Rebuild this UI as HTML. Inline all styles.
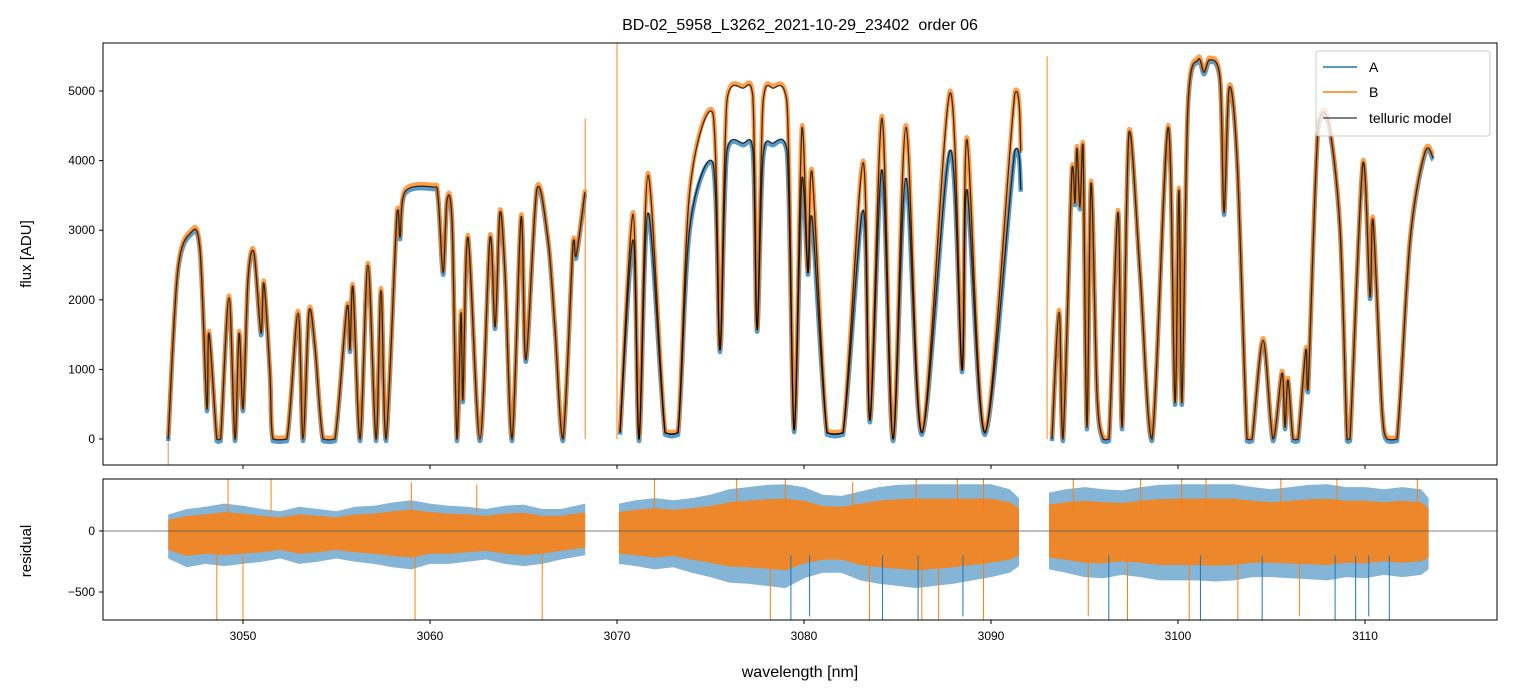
<!DOCTYPE html>
<html><head><meta charset="utf-8">
<style>
body{margin:0;background:#fff;}
svg{display:block;font-family:"Liberation Sans","DejaVu Sans",sans-serif;}
</style></head>
<body>
<svg id="chart" width="1513" height="696" viewBox="0 0 1513 696">
  <rect width="1513" height="696" fill="#fff"/>
  <text x="800" y="30" text-anchor="middle" font-size="16" fill="#000" style="white-space:pre">BD-02_5958_L3262_2021-10-29_23402  order 06</text>
  <g id="top-panel"></g>
  <g id="res-panel"></g>
  <text x="0" y="0" transform="translate(31,254) rotate(-90)" text-anchor="middle" font-size="15">flux [ADU]</text>
  <text x="0" y="0" transform="translate(31,551) rotate(-90)" text-anchor="middle" font-size="15">residual</text>
  <text x="800" y="677" text-anchor="middle" font-size="16">wavelength [nm]</text>
  <g id="legend">
    <rect x="1316" y="51" width="174" height="85" rx="3" fill="#fff" fill-opacity="0.8" stroke="#ccc"/>
    <line x1="1323" y1="67" x2="1357" y2="67" stroke="#1f77b4" stroke-width="1.5"/>
    <text x="1369" y="72" font-size="14">A</text>
    <line x1="1323" y1="92" x2="1357" y2="92" stroke="#ff7f0e" stroke-width="1.5"/>
    <text x="1369" y="97" font-size="14">B</text>
    <line x1="1323" y1="118" x2="1357" y2="118" stroke="#555" stroke-width="1.5"/>
    <text x="1369" y="123" font-size="14">telluric model</text>
  </g>
</svg>
<script>
// ---- data ----
const seg1Wl=[3046.0,3046.5,3047.2,3047.7,3048.07,3048.18,3048.6,3048.8,3049.25,3049.57,3049.79,3050.0,3050.27,3050.59,3050.96,3051.12,3051.44,3051.6,3052.35,3052.94,3053.21,3053.53,3053.85,3054.28,3054.92,3055.56,3055.72,3055.88,3056.26,3056.68,3057.11,3057.38,3057.65,3058.24,3058.4,3058.66,3060.16,3060.43,3060.7,3060.91,3061.18,3061.44,3061.66,3061.76,3062.03,3062.67,3063.21,3063.48,3063.74,3064.01,3064.39,3064.87,3065.13,3065.72,3066.31,3066.68,3067.11,3067.65,3067.81,3068.29];
const seg1Flux=[0,2390,2960,2720,430,1520,0,0,2030,0,1520,430,2290,2670,1520,2240,950,0,0,1810,0,1830,1320,0,0,1900,1280,2180,0,2500,0,2140,0,3260,2900,3550,3620,3480,2390,3430,3100,0,1810,560,2900,0,2900,1610,3250,2390,0,3190,1140,3600,2860,1610,0,2820,2620,3550];
const seg2Wl=[3070.16,3070.86,3071.18,3071.66,3072.57,3073.26,3073.9,3075.13,3075.51,3075.88,3076.74,3077.27,3077.49,3077.81,3078.34,3079.09,3079.47,3079.89,3080.21,3080.43,3081.23,3082.09,3083.16,3083.53,3084.17,3084.76,3085.45,3086.31,3087.81,3088.45,3088.72,3089.68,3091.28,3091.6];
const seg2FluxB=[90,3230,0,3790,90,90,3580,4680,1280,4870,5040,4910,1570,4830,5040,4830,130,4470,2390,3840,90,90,3970,270,4610,0,4480,90,4970,990,4300,90,4970,4110];
const seg2FluxA=[90,2860,0,3250,90,90,3050,3970,1280,4150,4250,4150,1570,4050,4250,4150,130,3750,2390,3190,90,90,3290,270,3870,0,3750,90,4150,990,3580,90,4150,3580];
const seg3Wl=[3093.26,3093.64,3093.85,3094.33,3094.49,3094.6,3094.76,3094.92,3095.13,3095.35,3095.67,3095.99,3096.31,3096.79,3097.01,3097.38,3097.97,3098.61,3099.47,3099.84,3100.05,3100.21,3100.53,3101.07,3101.39,3101.71,3102.25,3102.46,3102.73,3103.16,3103.69,3103.96,3104.55,3105.08,3105.56,3105.72,3105.88,3106.15,3106.42,3106.84,3106.95,3107.49,3108.02,3108.66,3109.04,3109.2,3109.89,3110.27,3110.43,3110.91,3111.18,3111.71,3112.41,3113.21,3113.64];
const seg3Flux=[0,1825,0,3890,3390,4180,3330,4220,170,3680,660,0,0,3260,170,4410,2390,0,4480,520,3580,520,4770,5450,5270,5450,5160,3250,5040,4010,0,0,1420,0,950,170,850,0,0,1280,700,4480,4580,3050,0,0,3970,2040,3150,420,0,0,2860,4120,4040];
// residual envelopes (per ~1 nm)
const resWl1=[3046,3047,3048,3049,3050,3051,3052,3053,3054,3055,3056,3057,3058,3059,3060,3061,3062,3063,3064,3065,3066,3067,3068.3];
const resHi1=[150,200,220,250,230,200,180,220,200,180,220,230,260,280,250,230,220,200,230,240,200,200,250];
const resLo1=[-250,-330,-300,-320,-300,-280,-250,-300,-280,-250,-280,-300,-330,-350,-300,-300,-280,-260,-300,-320,-300,-260,-220];
const resWl2=[3070.1,3071,3072,3073,3074,3075,3076,3077,3078,3079,3080,3081,3082,3083,3084,3085,3086,3087,3088,3089,3090,3091,3091.5];
const resHi2=[250,280,300,280,300,330,380,400,420,426,400,330,320,360,400,420,426,426,426,426,426,380,300];
const resLo2=[-300,-320,-350,-330,-380,-420,-470,-480,-500,-520,-430,-380,-380,-450,-480,-500,-520,-500,-480,-450,-420,-380,-320];
const resWl3=[3093.1,3094,3095,3096,3097,3098,3099,3100,3101,3102,3103,3104,3105,3106,3107,3108,3109,3110,3111,3112,3113,3113.4];
const resHi3=[350,380,400,380,370,400,420,426,426,426,426,400,380,400,420,426,400,400,380,400,380,300];
const resLo3=[-350,-380,-420,-430,-400,-420,-450,-450,-450,-460,-450,-420,-420,-430,-440,-450,-420,-430,-400,-420,-400,-350];
const spikeWlA=[3079.3,3080.3,3084.2,3086.1,3088.5,3096.3,3101.2,3104.5,3108.4,3109.5,3110.2,3111.3];
const spikeValA=[-730,-700,-730,-730,-700,-730,-730,-730,-730,-730,-700,-730];
const spikeWlB=[3048.6,3050.0,3059.2,3066.0,3078.2,3083.5,3086.3,3087.2,3089.6,3095.2,3097.3,3100.6,3103.2,3106.5];
const spikeValB=[-730,-730,-730,-730,-730,-730,-730,-730,-730,-700,-730,-730,-730,-700];
const upSpikeWl=[3049.2,3051.5,3059.0,3062.5,3072.0,3076.4,3079.0,3082.6,3086.0,3088.2,3089.6,3094.4,3098.0,3100.2,3101.5,3105.5,3108.5,3112.8];
const upSpikeVal=[426,426,400,380,426,426,426,400,426,426,426,426,426,426,426,426,426,426];
const flareWl=[3068.3,3070.0,3093.0];
const flareVal=[4600,5690,5500];
const xTicks=[3050,3060,3070,3080,3090,3100,3110];
const yTicks=[0,1000,2000,3000,4000,5000];
const rTicks=[0,-500];

// ---- axes ----
const L=103,R=1497,T1=43,B1=465,T2=479,B2=620;
const WL0=3050,WLpx=243,PXPERNM=18.7;
function xs(w){return WLpx+(w-WL0)*PXPERNM;}
function yt(f){return 439-f*0.0696;}
function yr(r){return 531-r*0.122;}
const NS="http://www.w3.org/2000/svg";
const svgEl=document.getElementById('chart');
const topG=document.getElementById('top-panel');
const resG=document.getElementById('res-panel');
function mk(tag,attrs,parent){const e=document.createElementNS(NS,tag);for(const k in attrs)e.setAttribute(k,attrs[k]);parent.appendChild(e);return e;}
function smooth(ws,fs,yf){
  const p=ws.map((w,i)=>[xs(w),yf(fs[i])]);
  let d='M'+p[0][0].toFixed(1)+','+p[0][1].toFixed(1);
  for(let i=0;i<p.length-1;i++){
    const p0=p[Math.max(0,i-1)],p1=p[i],p2=p[i+1],p3=p[Math.min(p.length-1,i+2)];
    const t=0.16;
    let c1x=p1[0]+(p2[0]-p0[0])*t,c1y=p1[1]+(p2[1]-p0[1])*t;
    let c2x=p2[0]-(p3[0]-p1[0])*t,c2y=p2[1]-(p3[1]-p1[1])*t;
    c1x=Math.min(Math.max(c1x,p1[0]),p2[0]);c2x=Math.min(Math.max(c2x,p1[0]),p2[0]);
    const lo=Math.min(p1[1],p2[1]),hi=Math.max(p1[1],p2[1]);
    c1y=Math.min(Math.max(c1y,lo-12),hi+2);c2y=Math.min(Math.max(c2y,lo-12),hi+2);
    c1y=Math.min(c1y,440);c2y=Math.min(c2y,440);
    d+=' C'+c1x.toFixed(1)+','+c1y.toFixed(1)+' '+c2x.toFixed(1)+','+c2y.toFixed(1)+' '+p2[0].toFixed(1)+','+p2[1].toFixed(1);
  }
  return d;
}
const defs=mk('defs',{},svgEl);
const c1=mk('clipPath',{id:'clipTop'},defs);mk('rect',{x:L,y:T1,width:R-L,height:B1-T1},c1);
const c2=mk('clipPath',{id:'clipRes'},defs);mk('rect',{x:L,y:T2,width:R-L,height:B2-T2},c2);
const gT=mk('g',{'clip-path':'url(#clipTop)'},topG);
const gR=mk('g',{'clip-path':'url(#clipRes)'},resG);

flareWl.forEach((w,i)=>{
  const l=mk('line',{x1:xs(w),x2:xs(w),y1:yt(0),y2:yt(flareVal[i]),stroke:'#ff7f0e','stroke-width':1.2,opacity:0.8},gT);
  
  
});
mk('line',{x1:xs(3046),x2:xs(3046),y1:yt(0),y2:yt(-400),stroke:'#c89a6a','stroke-width':1},gT);

const segs=[[seg1Wl,seg1Flux,seg1Flux],[seg2Wl,seg2FluxA,seg2FluxB],[seg3Wl,seg3Flux,seg3Flux]];
segs.forEach(s=>{
  const a=mk('path',{d:smooth(s[0],s[1],yt),fill:'none',stroke:'#1f77b4','stroke-width':4.5,opacity:0.75,'stroke-linejoin':'round',transform:'translate(0,2)'},gT);
  
  
});
segs.forEach(s=>{
  const b=mk('path',{d:smooth(s[0],s[2],yt),fill:'none',stroke:'#ff7f0e','stroke-width':4.5,opacity:0.75,'stroke-linejoin':'round',transform:'translate(0,-2)'},gT);
  
  
});
segs.forEach(s=>{
  const m=mk('path',{d:smooth(s[0],s[1],yt),fill:'none',stroke:'#000','stroke-width':1.3,opacity:0.75},gT);
  
  
  if(s[1]!==s[2]){
    const m2=mk('path',{d:smooth(s[0],s[2],yt),fill:'none',stroke:'#000','stroke-width':1.3,opacity:0.75},gT);
    
    
  }
});

function band(ws,hi,lo,sc){
  let d='M';
  ws.forEach((w,i)=>{d+=xs(w).toFixed(1)+','+yr(hi[i]*sc).toFixed(1)+' L';});
  for(let i=ws.length-1;i>=0;i--){d+=xs(ws[i]).toFixed(1)+','+yr(lo[i]*sc).toFixed(1)+(i>0?' L':' Z');}
  return d;
}
const rs=[[resWl1,resHi1,resLo1],[resWl2,resHi2,resLo2],[resWl3,resHi3,resLo3]];
rs.forEach(r=>{
  const p=mk('path',{d:band(r[0],r[1],r[2],0.9),fill:'#1f77b4',opacity:0.55},gR);
  
  
});
rs.forEach(r=>{
  const p=mk('path',{d:band(r[0],r[1],r[2],0.62),fill:'#ff7f0e',opacity:0.85},gR);
  
  
});
spikeWlA.forEach((w,i)=>{
  const l=mk('line',{x1:xs(w),x2:xs(w),y1:yr(-200),y2:yr(spikeValA[i]),stroke:'#1f77b4','stroke-width':1},gR);
  
  
});
spikeWlB.forEach((w,i)=>{
  const l=mk('line',{x1:xs(w),x2:xs(w),y1:yr(-200),y2:yr(spikeValB[i]),stroke:'#ff7f0e','stroke-width':1},gR);
  
  
});
upSpikeWl.forEach((w,i)=>{
  const l=mk('line',{x1:xs(w),x2:xs(w),y1:yr(150),y2:yr(upSpikeVal[i]),stroke:'#ff7f0e','stroke-width':1},gR);
  
  
});
mk('line',{x1:L,x2:R,y1:yr(0),y2:yr(0),stroke:'#555','stroke-width':0.8},gR);

const f1=mk('rect',{x:L,y:T1,width:R-L,height:B1-T1,fill:'none',stroke:'#000','stroke-width':1},topG);


const f2=mk('rect',{x:L,y:T2,width:R-L,height:B2-T2,fill:'none',stroke:'#000','stroke-width':1},resG);



xTicks.forEach(v=>{
  const x=xs(v);
  mk('line',{x1:x,x2:x,y1:B1,y2:B1+4,stroke:'#000'},topG);
  mk('line',{x1:x,x2:x,y1:B2,y2:B2+4,stroke:'#000'},resG);
  const t=mk('text',{x:x,y:B2+20,'text-anchor':'middle','font-size':12},resG);
  t.textContent=v;
  
  
});
yTicks.forEach(v=>{
  const y=yt(v);
  mk('line',{x1:L-4,x2:L,y1:y,y2:y,stroke:'#000'},topG);
  const t=mk('text',{x:L-8,y:y+4,'text-anchor':'end','font-size':12},topG);
  t.textContent=v;
  
  
});
rTicks.forEach(v=>{
  const y=yr(v);
  mk('line',{x1:L-4,x2:L,y1:y,y2:y,stroke:'#000'},resG);
  const t=mk('text',{x:L-8,y:y+4,'text-anchor':'end','font-size':12},resG);
  t.textContent=(v<0?'\u2212'+(-v):v);
  
  
});
// keep legend on top
svgEl.appendChild(document.getElementById('legend'));
</script>
</body></html>
